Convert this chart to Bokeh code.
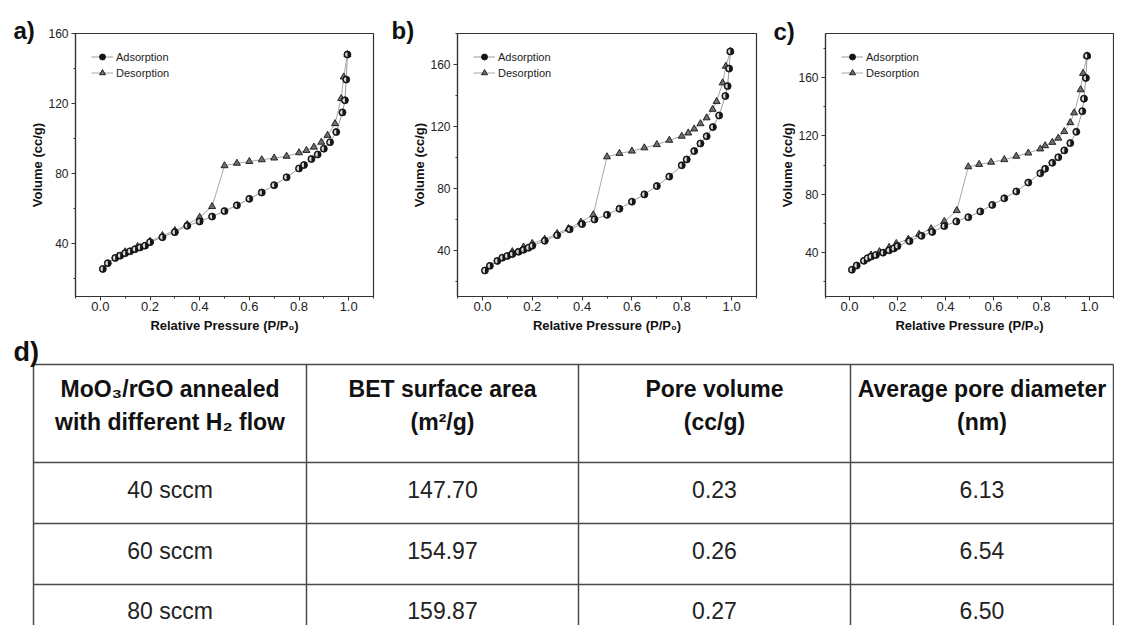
import numpy as np
from bokeh.plotting import figure
from bokeh.models import (Range1d, FixedTicker, PrintfTickFormatter, Legend,
                          LegendItem)
from bokeh.layouts import column, row
from bokeh.embed import file_html
from bokeh.resources import INLINE
from bokeh.core.properties import value

# ---------------- data ----------------
# panel a) 40 sccm
ads_x_a = [0.01, 0.03, 0.06, 0.08, 0.10, 0.12, 0.14, 0.16, 0.18, 0.20, 0.25, 0.30,
           0.35, 0.40, 0.45, 0.50, 0.55, 0.60, 0.65, 0.70, 0.75, 0.80, 0.82, 0.85,
           0.875, 0.90, 0.925, 0.95, 0.975, 0.985, 0.99, 0.995]
ads_y_a = [25.7, 29.0, 32.0, 33.3, 34.7, 35.8, 37.0, 38.0, 39.0, 41.0, 43.8, 46.7,
           50.3, 52.8, 55.6, 58.7, 62.0, 65.7, 69.3, 73.5, 78.0, 83.0, 85.0, 88.4,
           91.0, 94.3, 98.0, 103.8, 115.0, 121.9, 133.7, 148.0]
des_x_a = [0.995, 0.98, 0.97, 0.945, 0.915, 0.89, 0.86, 0.83, 0.80, 0.75, 0.70, 0.65,
           0.60, 0.55, 0.50, 0.45, 0.40, 0.35, 0.30, 0.25, 0.20, 0.15, 0.10, 0.07]
des_y_a = [148.0, 135.2, 122.9, 108.6, 101.9, 98.0, 95.2, 93.3, 92.0, 90.0, 89.0, 88.0,
           87.0, 86.0, 84.6, 61.3, 55.2, 51.0, 47.6, 44.8, 41.5, 38.5, 35.5, 32.8]

# panel b) 60 sccm
ads_x_b = [0.01, 0.03, 0.06, 0.08, 0.10, 0.12, 0.145, 0.165, 0.185, 0.20, 0.25, 0.30,
           0.35, 0.40, 0.45, 0.50, 0.55, 0.60, 0.65, 0.70, 0.75, 0.80, 0.82, 0.85,
           0.875, 0.90, 0.925, 0.95, 0.975, 0.984, 0.99, 0.995]
ads_y_b = [26.8, 29.8, 33.0, 35.1, 36.2, 37.4, 38.9, 40.2, 41.5, 42.8, 46.0, 49.6,
           53.4, 56.8, 59.8, 62.8, 66.7, 71.3, 76.0, 81.4, 87.5, 94.8, 98.6, 104.0,
           108.9, 113.6, 119.5, 127.0, 139.6, 146.0, 157.3, 168.4]
des_x_b = [0.995, 0.977, 0.964, 0.94, 0.924, 0.90, 0.875, 0.85, 0.826, 0.80, 0.75, 0.70,
           0.65, 0.60, 0.55, 0.50, 0.445, 0.395, 0.345, 0.30, 0.25, 0.20, 0.165, 0.12]
des_y_b = [168.4, 158.8, 148.1, 136.0, 131.0, 125.5, 121.7, 118.3, 115.7, 113.6, 111.0, 108.2,
           106.1, 104.0, 102.5, 100.3, 62.8, 58.1, 53.9, 50.7, 47.0, 44.3, 42.0, 39.0]

# panel c) 80 sccm
ads_x_c = [0.01, 0.03, 0.06, 0.075, 0.09, 0.11, 0.14, 0.165, 0.185, 0.20, 0.25, 0.30,
           0.345, 0.395, 0.445, 0.495, 0.545, 0.595, 0.645, 0.695, 0.745, 0.795, 0.815, 0.845,
           0.87, 0.895, 0.92, 0.945, 0.97, 0.977, 0.985, 0.99]
ads_y_c = [28.3, 31.2, 34.4, 36.2, 37.3, 38.4, 40.0, 41.6, 42.9, 44.5, 47.9, 51.5,
           54.2, 58.2, 61.4, 64.3, 68.2, 72.7, 77.2, 81.9, 88.0, 94.3, 97.4, 101.5,
           105.3, 110.0, 115.0, 122.7, 136.8, 145.4, 159.6, 174.7]
des_x_c = [0.99, 0.973, 0.963, 0.936, 0.92, 0.895, 0.87, 0.845, 0.815, 0.795, 0.745, 0.695,
           0.645, 0.59, 0.54, 0.495, 0.447, 0.395, 0.34, 0.29, 0.245, 0.195, 0.165, 0.125, 0.09]
des_y_c = [174.7, 162.7, 151.5, 135.7, 129.0, 122.9, 118.4, 115.5, 113.2, 111.0, 108.2, 106.0,
           103.7, 101.9, 100.4, 98.8, 68.8, 61.4, 56.4, 52.6, 49.2, 46.3, 43.6, 40.7, 38.4]

x_ticks = [0.0, 0.2, 0.4, 0.6, 0.8, 1.0]
x_minor_ticks = [-0.1, 0.1, 0.3, 0.5, 0.7, 0.9, 1.1]
y_ticks = [40, 80, 120, 160]
y_minor_ticks = [20, 60, 100, 140, 180]

# table d)
header_line1 = ["MoO\u2083/rGO annealed", "BET surface area", "Pore volume", "Average pore diameter"]
header_line2 = ["with different H\u2082 flow", "(m\u00b2/g)", "(cc/g)", "(nm)"]
flow_labels = ["40 sccm", "60 sccm", "80 sccm"]
bet_area = [147.70, 154.97, 159.87]
pore_volume = [0.23, 0.26, 0.27]
pore_diameter = [6.13, 6.54, 6.50]

FONT = "Liberation Sans"
TOP_H = 336
X0, X1 = -0.1, 1.1
Y0 = 10


def make_panel(letter, ax, ay, dx, dy, y_end, width, b_left, frame_w, b_top,
               frame_h, lx, l_standoff):
    b_right = width - b_left - frame_w
    p = figure(width=width, height=TOP_H, output_backend="svg",
               toolbar_location=None,
               x_range=Range1d(X0, X1), y_range=Range1d(Y0, y_end),
               min_border_left=b_left, min_border_right=b_right,
               min_border_top=b_top, min_border_bottom=TOP_H - b_top - frame_h)
    p.xgrid.visible = False
    p.ygrid.visible = False
    p.outline_line_color = "#333333"
    p.outline_line_width = 1.2
    p.background_fill_color = "white"
    p.border_fill_color = "white"

    # panel letter as the figure title, pulled left of / down beside the frame
    p.title.text = letter
    p.title.align = "left"
    p.title.offset = lx - b_left
    p.title.standoff = l_standoff
    p.title.text_font = FONT
    p.title.text_font_size = "24px"
    p.title.text_font_style = "bold"
    p.title.text_color = "#111111"

    xa = p.xaxis[0]
    xa.ticker = FixedTicker(ticks=x_ticks, minor_ticks=x_minor_ticks)
    xa.formatter = PrintfTickFormatter(format="%.1f")
    xa.axis_label = "Relative Pressure (P/P\u2080)"
    ya = p.yaxis[0]
    ya.ticker = FixedTicker(ticks=y_ticks, minor_ticks=y_minor_ticks)
    ya.axis_label = "Volume (cc/g)"
    for a in (xa, ya):
        a.axis_line_color = "#333333"
        a.axis_line_width = 1.2
        a.major_tick_line_color = "#333333"
        a.minor_tick_line_color = "#333333"
        a.major_tick_in = 0
        a.major_tick_out = 4
        a.minor_tick_in = 0
        a.minor_tick_out = 2
        a.major_label_text_font = FONT
        a.major_label_text_color = "#222222"
        a.axis_label_text_font = FONT
        a.axis_label_text_font_style = "bold"
        a.axis_label_text_font_size = "13px"
        a.axis_label_text_color = "#111111"
    xa.major_label_text_font_size = "13px"
    xa.major_label_standoff = 1
    xa.axis_label_standoff = 4
    ya.major_label_text_font_size = "12px"
    ya.major_label_standoff = 3
    ya.axis_label_standoff = 0

    la = p.line(ax, ay, line_color="#9a9a9a", line_width=1)
    ld = p.line(dx, dy, line_color="#a8a8a8", line_width=1)
    sd = p.scatter(dx, dy, marker="triangle", size=7, fill_color="#6e6e6e",
                   line_color="#151515", line_width=0.9)
    sa = p.scatter(ax, ay, marker="circle", size=7, fill_color="#151515",
                   line_color="#151515", line_width=0.9)
    p.wedge(ax, ay, radius=2.4, radius_units="screen", start_angle=np.pi / 2,
            end_angle=3 * np.pi / 2, fill_color="#d9d9d9", line_color=None)

    legend = Legend(items=[LegendItem(label="Adsorption", renderers=[la, sa]),
                           LegendItem(label="Desorption", renderers=[ld, sd])],
                    location="top_left", margin=16, padding=17, spacing=1,
                    glyph_width=22, glyph_height=15, label_height=15,
                    label_standoff=3, label_text_font=FONT,
                    label_text_font_size="11px", label_text_color="#222222",
                    background_fill_alpha=0, border_line_color=None)
    p.add_layout(legend)
    return p


pa = make_panel("a)", ads_x_a, ads_y_a, des_x_a, des_y_a, 160, 388, 75, 298, 33, 264, 13, -20)
pb = make_panel("b)", ads_x_b, ads_y_b, des_x_b, des_y_b, 180, 380, 69, 299, 30, 266, 3, -20)
pc = make_panel("c)", ads_x_c, ads_y_c, des_x_c, des_y_c, 190, 346, 57, 288, 30, 266, 5, -22)

# ---------------- table ----------------
TW, TH = 1114, 625 - TOP_H
pt = figure(width=TW, height=TH, output_backend="svg", toolbar_location=None,
            x_range=Range1d(0, TW), y_range=Range1d(TH, 0),
            x_axis_type=None, y_axis_type=None, min_border=0)
pt.xgrid.visible = False
pt.ygrid.visible = False
pt.outline_line_color = None
pt.background_fill_color = "white"
pt.border_fill_color = "white"

col_edges = [33, 306, 578, 850, 1113]
row_edges = [28, 126, 187, 248]
col_centers = [(col_edges[i] + col_edges[i + 1]) / 2 for i in range(4)]

pt.segment(x0=[col_edges[0]] * len(row_edges), y0=row_edges,
           x1=[col_edges[-1]] * len(row_edges), y1=row_edges,
           line_color="#4a4a4a", line_width=1.5)
pt.segment(x0=col_edges, y0=[row_edges[0]] * len(col_edges),
           x1=col_edges, y1=[TH] * len(col_edges),
           line_color="#4a4a4a", line_width=1.5)

pt.text(x=col_centers, y=[52] * 4, text=header_line1, text_font=value(FONT),
        text_font_size="23px", text_font_style="bold", text_align="center",
        text_baseline="middle", text_color="#111111")
pt.text(x=col_centers, y=[85] * 4, text=header_line2, text_font=value(FONT),
        text_font_size="23px", text_font_style="bold", text_align="center",
        text_baseline="middle", text_color="#111111")

body_x, body_y, body_t = [], [], []
row_centers = [153, 214, 274]
for i in range(len(flow_labels)):
    cells = [flow_labels[i], f"{bet_area[i]:.2f}", f"{pore_volume[i]:.2f}",
             f"{pore_diameter[i]:.2f}"]
    for j, t in enumerate(cells):
        body_x.append(col_centers[j])
        body_y.append(row_centers[i])
        body_t.append(t)
pt.text(x=body_x, y=body_y, text=body_t, text_font=value(FONT),
        text_font_size="23px", text_align="center", text_baseline="middle",
        text_color="#222222")

pt.text(x=[13], y=[15], text=["d)"], text_font=value(FONT), text_font_size="27px",
        text_font_style="bold", text_align="left", text_baseline="middle",
        text_color="#111111")

layout = column(row(pa, pb, pc), pt)
open("out.html", "w").write(file_html(layout, INLINE))
